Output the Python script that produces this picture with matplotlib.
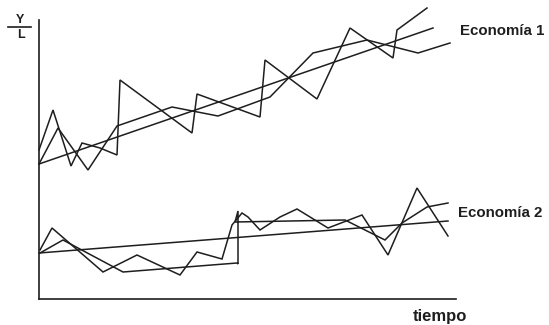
import matplotlib.pyplot as plt

# tiempo (t) y nivel (Y/L)
# Economia 1
e1_real_t = [0, 14, 32, 43, 61, 78, 81, 153, 158, 221, 226, 278, 311, 354, 358, 388]
e1_real_y = [149, 189, 133, 156, 151, 144, 219, 166, 205, 182, 239, 200, 271, 241, 269, 291]
e1_suave_t = [0, 19, 49, 78, 133, 179, 231, 274, 328, 379, 411]
e1_suave_y = [135, 171, 129, 173, 192, 183, 202, 246, 259, 246, 256]
e1_tend_t = [0, 394]
e1_tend_y = [135, 271]

# Economia 2
e2_real_t = [1, 13, 64, 98, 141, 158, 183, 193, 203, 209, 221, 241, 258, 289, 323, 349, 378, 409]
e2_real_y = [49, 71, 27, 44, 24, 47, 40, 74, 86, 82, 69, 82, 90, 71, 84, 44, 111, 63]
e2_suave_t = [1, 24, 84, 198, 199, 199, 196, 306, 346, 363, 388, 409]
e2_suave_y = [46, 59, 27, 36, 35, 88, 77, 79, 59, 76, 92, 96]
e2_tend_t = [0, 409]
e2_tend_y = [46, 78]

fig = plt.figure(figsize=(5.49, 3.25), dpi=100)
ax = fig.add_axes([39 / 549, 26 / 325, 417 / 549, 279 / 325])

col = '#1e1e1e'
for t, y in [(e1_real_t, e1_real_y), (e1_suave_t, e1_suave_y), (e1_tend_t, e1_tend_y),
             (e2_real_t, e2_real_y), (e2_suave_t, e2_suave_y), (e2_tend_t, e2_tend_y)]:
    ax.plot(t, y, color=col, lw=1.1, clip_on=False, solid_joinstyle='miter')

ax.set_xlim(0, 417)
ax.set_ylim(0, 279)
ax.set_xticks([])
ax.set_yticks([])
for s in ['top', 'right']:
    ax.spines[s].set_visible(False)
for s in ['left', 'bottom']:
    ax.spines[s].set_linewidth(1.2)
    ax.spines[s].set_color(col)

fnt = dict(family='Liberation Sans', weight='bold', color=col)
ax.text(421, 268, 'Economía 1', fontsize=10.8, va='center', ha='left', clip_on=False, **fnt)
ax.text(419, 86, 'Economía 2', fontsize=10.8, va='center', ha='left', clip_on=False, **fnt)
ax.text(401, -17, 'tiempo', fontsize=12, va='center', ha='center', clip_on=False, **fnt)
ax.text(-19, 279, 'Y', fontsize=9, va='center', ha='center', clip_on=False, **fnt)
ax.plot([-31, -8], [272, 272], color=col, lw=1.2, clip_on=False)
ax.text(-18, 264, 'L', fontsize=9, va='center', ha='center', clip_on=False, **fnt)

fig.savefig('out.png', dpi=100)
